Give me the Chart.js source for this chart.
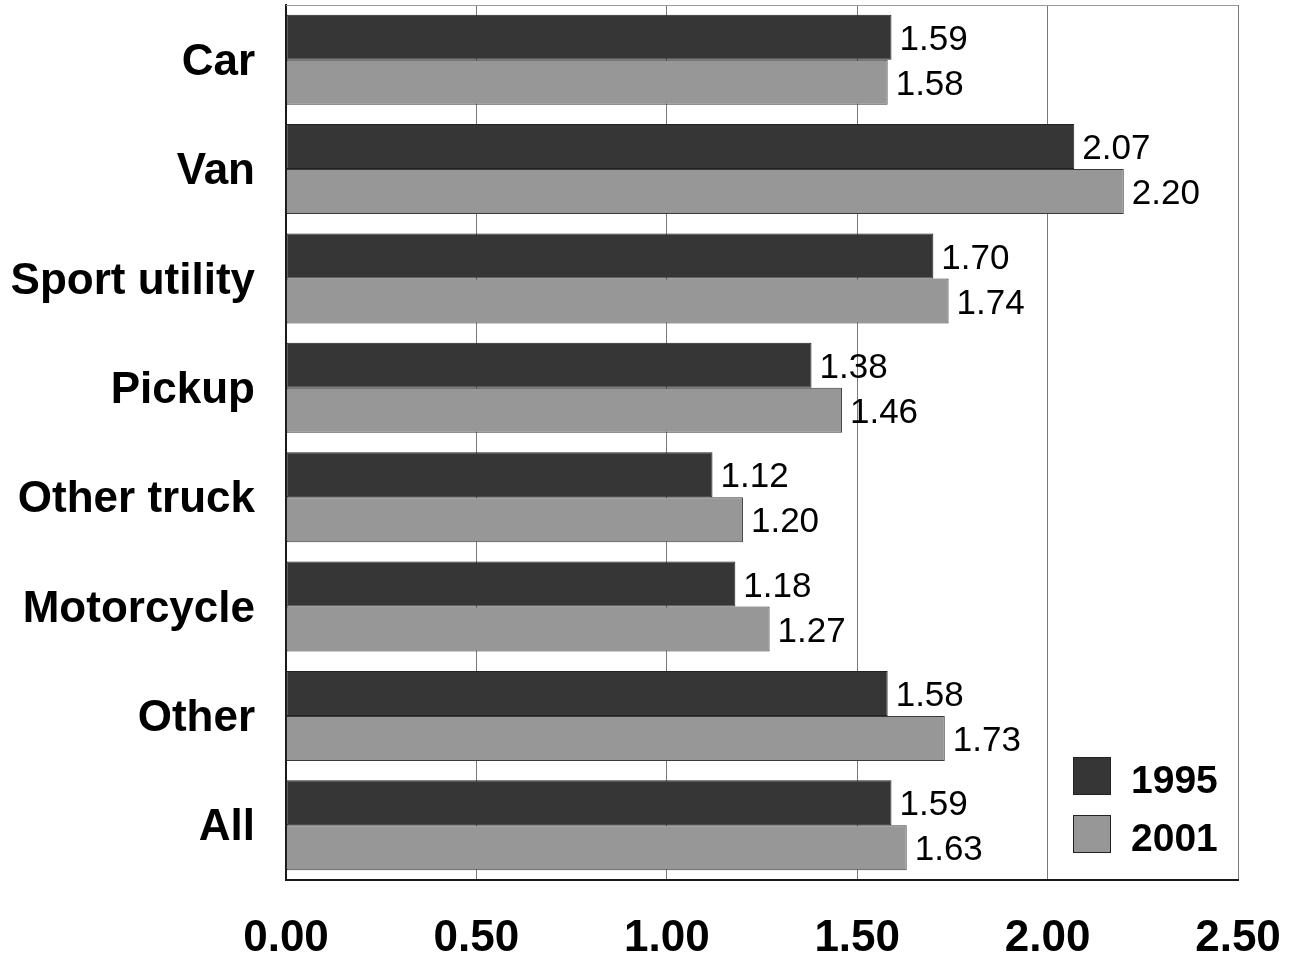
<!DOCTYPE html>
<html>
<head>
<meta charset="utf-8">
<script src="https://cdn.jsdelivr.net/npm/chart.js@4.4.1/dist/chart.umd.min.js"></script>
<style>
  html, body { margin: 0; padding: 0; background: #fff; }
  #wrap { width: 1295px; height: 955px; }
</style>
</head>
<body>
<div id="wrap"><canvas id="grafico" width="1295" height="955"></canvas></div>
<script>
const categorias = ['Car', 'Van', 'Sport utility', 'Pickup', 'Other truck', 'Motorcycle', 'Other', 'All'];
const valores1995 = [1.59, 2.07, 1.70, 1.38, 1.12, 1.18, 1.58, 1.59];
const valores2001 = [1.58, 2.20, 1.74, 1.46, 1.20, 1.27, 1.73, 1.63];
const anos = ['1995', '2001'];
const ticksX = [0, 0.5, 1.0, 1.5, 2.0, 2.5];

const fonte = '"Liberation Sans", Arial, sans-serif';
const corEscura = '#363636';
const corClara = '#979797';

// rótulos de valor na ponta de cada barra
const rotulosPlugin = {
    id: 'rotulos',
    afterDatasetsDraw(chart) {
        const ctx = chart.ctx;
        ctx.save();
        ctx.font = '35px ' + fonte;
        ctx.fillStyle = '#000';
        ctx.textAlign = 'left';
        ctx.textBaseline = 'middle';
        chart.data.datasets.forEach((ds, i) => {
            chart.getDatasetMeta(i).data.forEach((bar, j) => {
                ctx.fillText(ds.data[j].toFixed(2), bar.x + 8, bar.y + 3);
            });
        });
        ctx.restore();
    }
};

// borda de cima e legenda dentro da área do gráfico
const molduraPlugin = {
    id: 'moldura',
    afterDraw(chart) {
        const ctx = chart.ctx;
        const a = chart.chartArea;
        ctx.save();
        ctx.strokeStyle = '#9a9a9a';
        ctx.lineWidth = 1;
        ctx.beginPath();
        ctx.moveTo(a.left, a.top + 0.5);
        ctx.lineTo(a.right, a.top + 0.5);
        ctx.stroke();

        const x = a.right - 165;
        const y0 = a.bottom - 123;
        chart.data.datasets.forEach((ds, i) => {
            const y = y0 + i * 58;
            ctx.fillStyle = ds.backgroundColor;
            ctx.fillRect(x, y, 38, 38);
            ctx.strokeStyle = '#222';
            ctx.strokeRect(x + 0.5, y + 0.5, 37, 37);
            ctx.fillStyle = '#000';
            ctx.font = 'bold 39px ' + fonte;
            ctx.textBaseline = 'middle';
            ctx.textAlign = 'left';
            ctx.fillText(ds.label, x + 58, y + 25);
        });
        ctx.restore();
    }
};

function semPadding(scale) {
    scale.paddingTop = 0;
    scale.paddingBottom = 0;
    scale.paddingLeft = 0;
    scale.paddingRight = 0;
}

new Chart(document.getElementById('grafico').getContext('2d'), {
    type: 'bar',
    data: {
        labels: categorias,
        datasets: [{
            label: anos[0],
            data: valores1995,
            backgroundColor: corEscura,
            borderColor: '#222',
            borderWidth: 1,
            borderSkipped: false
        }, {
            label: anos[1],
            data: valores2001,
            backgroundColor: corClara,
            borderColor: '#3a3a3a',
            borderWidth: 1,
            borderSkipped: false
        }]
    },
    options: {
        indexAxis: 'y',
        responsive: false,
        animation: false,
        layout: { padding: { top: 5, right: 57, left: 0, bottom: 0 } },
        datasets: { bar: { categoryPercentage: 0.823, barPercentage: 1.0 } },
        plugins: {
            legend: { display: false },
            tooltip: { enabled: false }
        },
        scales: {
            x: {
                min: 0,
                max: 2.5,
                afterBuildTicks: (scale) => { scale.ticks = ticksX.map(v => ({ value: v })); },
                afterFit: (scale) => { scale.height = 75; semPadding(scale); },
                ticks: {
                    callback: (v) => Number(v).toFixed(2),
                    font: { family: fonte, size: 44, weight: 'bold' },
                    color: '#000',
                    padding: 32,
                    maxRotation: 0
                },
                grid: { color: '#7a7a7a', lineWidth: 1, drawTicks: false },
                border: { color: '#1a1a1a', width: 2 }
            },
            y: {
                afterFit: (scale) => { scale.width = 286; semPadding(scale); },
                ticks: {
                    font: { family: fonte, size: 44, weight: 'bold' },
                    color: '#000',
                    padding: 31,
                    labelOffset: 3
                },
                grid: { display: false, drawTicks: false },
                border: { color: '#1a1a1a', width: 2 }
            }
        }
    },
    plugins: [rotulosPlugin, molduraPlugin]
});
</script>
</body>
</html>
